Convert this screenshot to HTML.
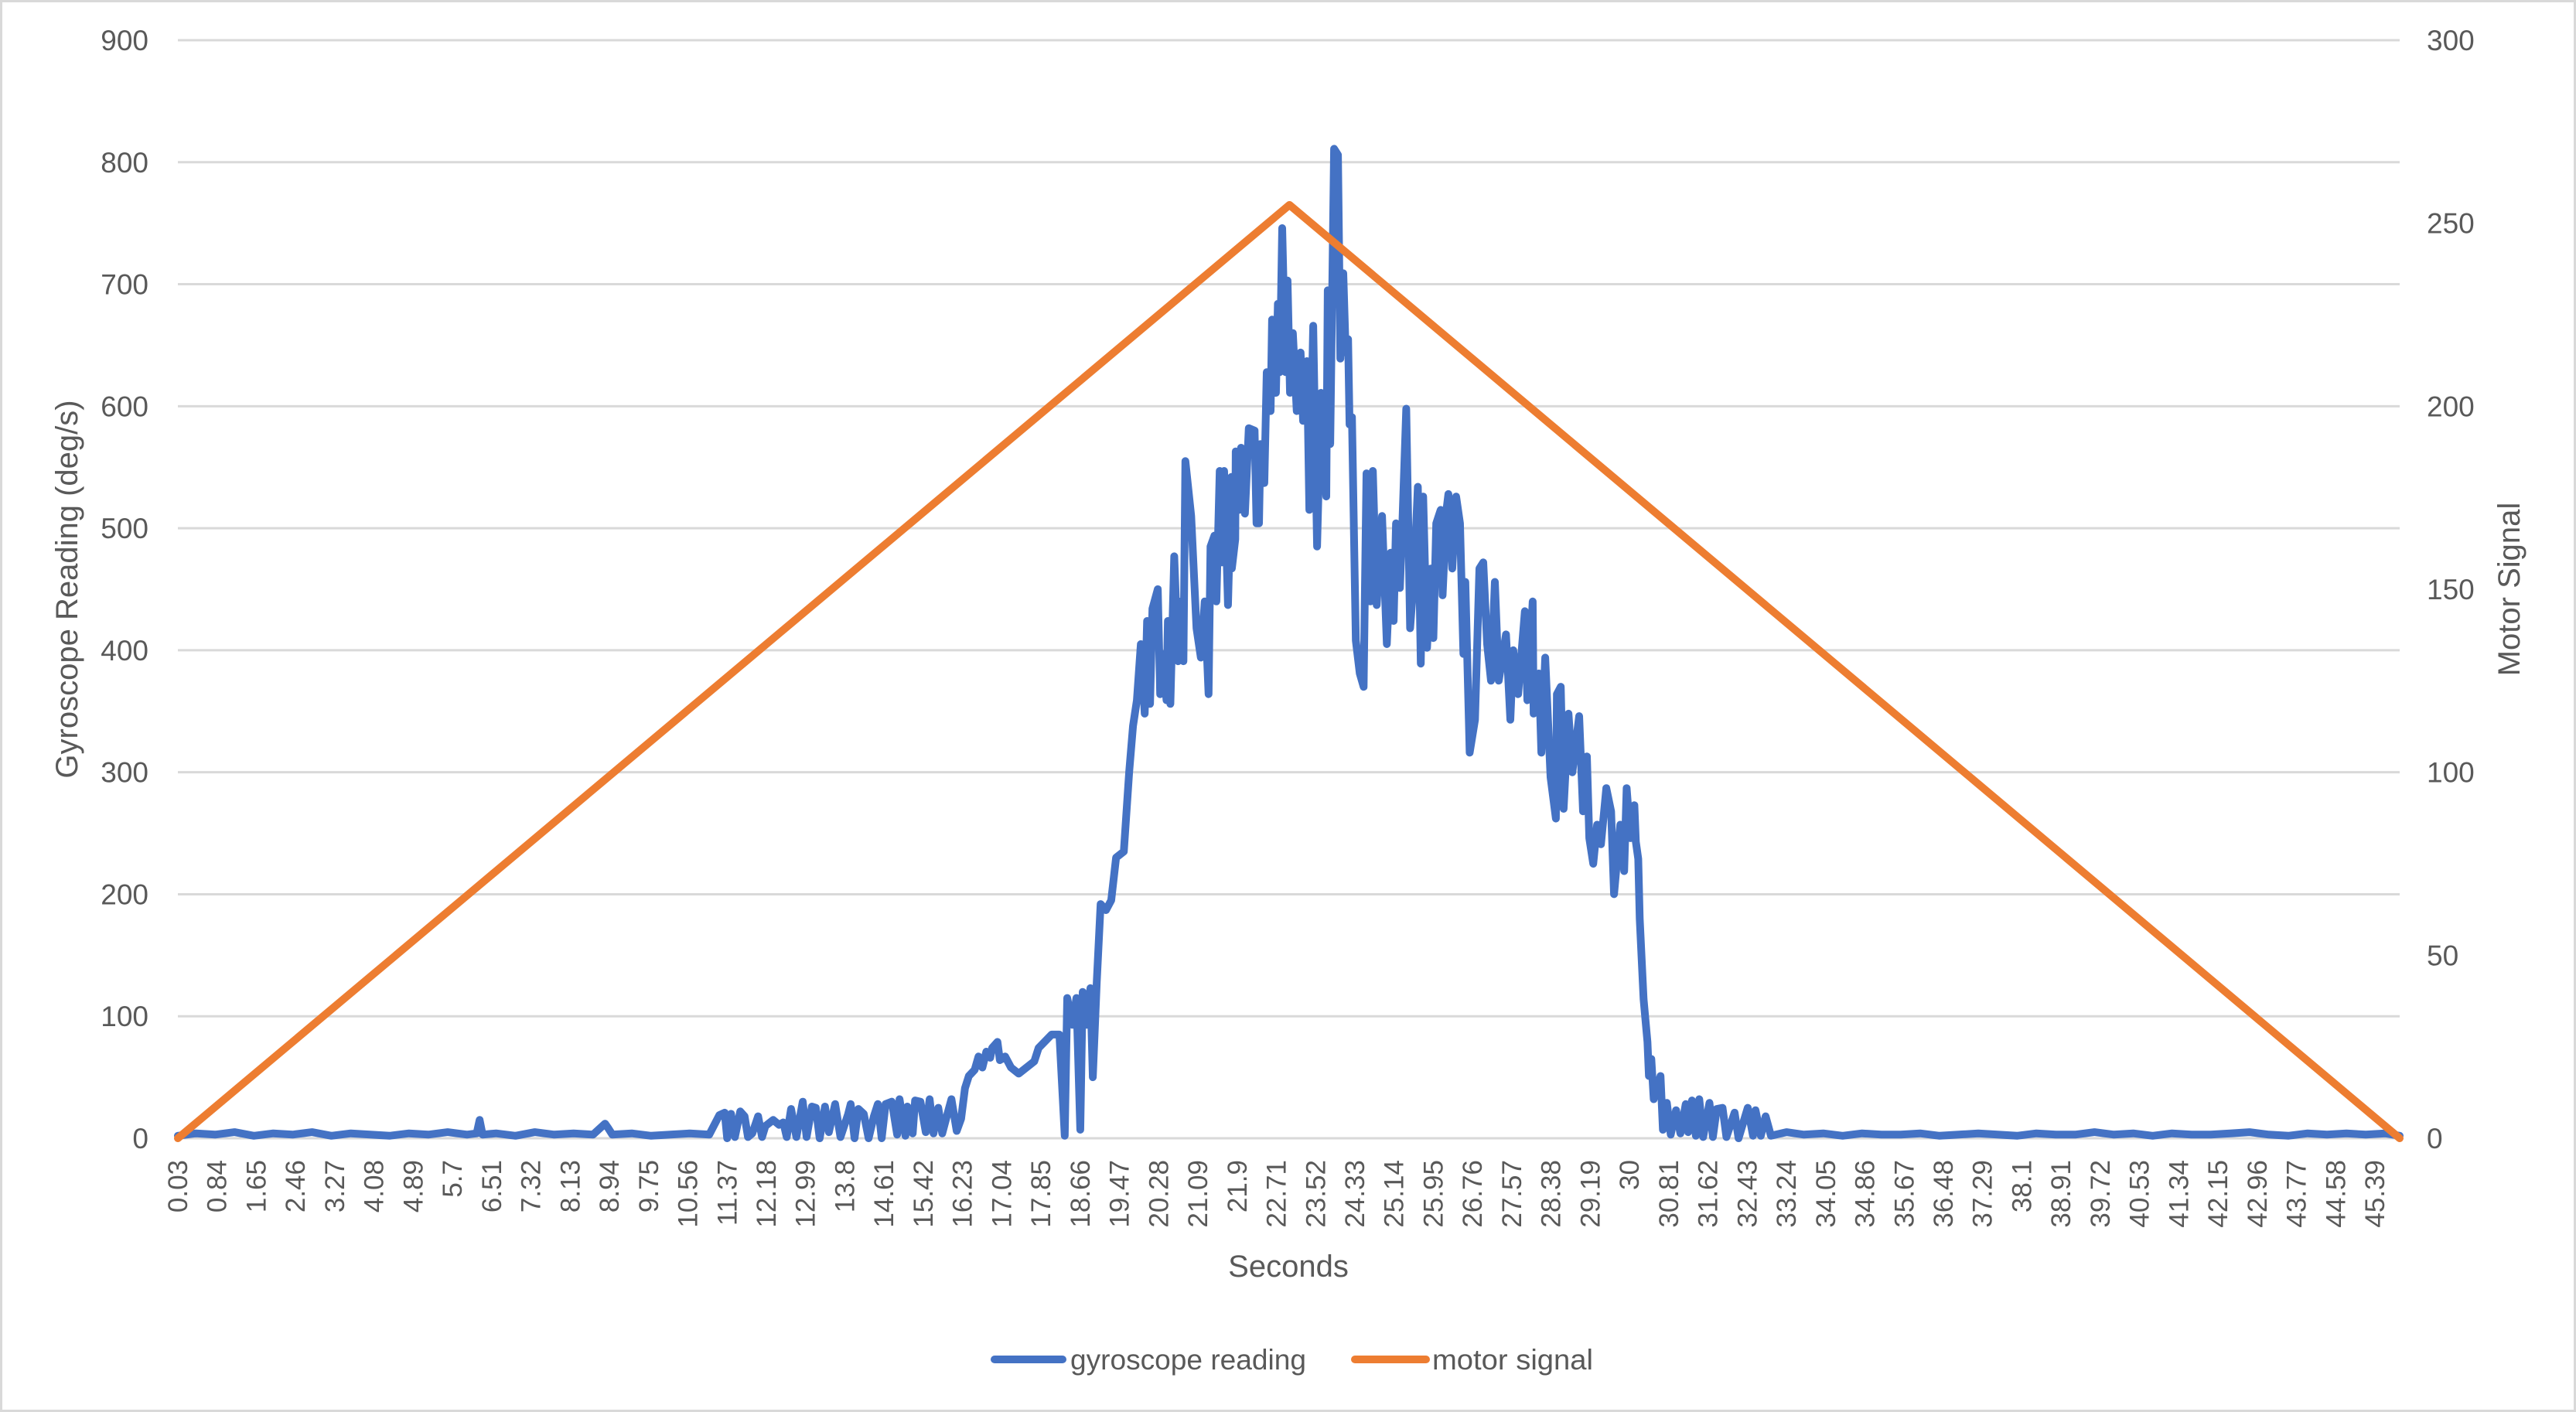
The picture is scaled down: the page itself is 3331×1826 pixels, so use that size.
<!DOCTYPE html>
<html><head><meta charset="utf-8"><style>
html,body{margin:0;padding:0;background:#fff;}
svg{display:block;font-family:"Liberation Sans",sans-serif;}
</style></head><body>
<svg id="chart" width="3331" height="1826" viewBox="0 0 3331 1826">
<rect x="1.5" y="1.5" width="3328" height="1823" fill="#fff" stroke="#d9d9d9" stroke-width="3"/>
<g id="grid"></g>
<g id="lefttick"></g>
<g id="righttick"></g>
<g id="xtick"></g>
<g id="series"></g>
<text x="100" y="762" transform="rotate(-90 100 762)" text-anchor="middle" font-size="40" fill="#595959">Gyroscope Reading (deg/s)</text>
<text x="3258" y="762" transform="rotate(-90 3258 762)" text-anchor="middle" font-size="40" fill="#595959">Motor Signal</text>
<text x="1666" y="1651" text-anchor="middle" font-size="40" fill="#595959">Seconds</text>
<g>
<g>
<line x1="1286" y1="1758" x2="1374" y2="1758" stroke="#4472C4" stroke-width="10" stroke-linecap="round"/>
<text x="1384" y="1771" font-size="37" fill="#595959" textLength="305" lengthAdjust="spacingAndGlyphs">gyroscope reading</text>
</g>
<g>
<line x1="1752" y1="1758" x2="1844" y2="1758" stroke="#ED7D31" stroke-width="10" stroke-linecap="round"/>
<text x="1852" y="1771" font-size="37" fill="#595959" textLength="208" lengthAdjust="spacingAndGlyphs">motor signal</text>
</g>
</g>
</svg>
<script>
const leftTicks = [0,100,200,300,400,500,600,700,800,900];
const rightTicks = [0,50,100,150,200,250,300];
const xTickLabels = ["0.03","0.84","1.65","2.46","3.27","4.08","4.89","5.7","6.51","7.32","8.13","8.94","9.75","10.56","11.37","12.18","12.99","13.8","14.61","15.42","16.23","17.04","17.85","18.66","19.47","20.28","21.09","21.9","22.71","23.52","24.33","25.14","25.95","26.76","27.57","28.38","29.19","30","30.81","31.62","32.43","33.24","34.05","34.86","35.67","36.48","37.29","38.1","38.91","39.72","40.53","41.34","42.15","42.96","43.77","44.58","45.39"];
const motorTimes = [0.03, 22.98, 45.90];
const motorValues = [0, 255, 0];
const gyroTimes = [0.03,0.4,0.8,1.2,1.6,2.0,2.4,2.8,3.2,3.6,4.0,4.4,4.8,5.2,5.6,6.0,6.2,6.26,6.32,6.6,7.0,7.4,7.8,8.2,8.6,8.85,8.92,9.0,9.4,9.8,10.2,10.6,11.0,
11.21,11.32,11.37,11.45,11.53,11.64,11.73,11.80,11.89,12.01,12.09,12.16,12.32,12.44,12.53,12.60,12.69,12.80,12.93,13.01,13.12,13.20,13.28,13.39,13.47,13.60,13.71,13.87,13.92,14.00,14.08,14.19,14.29,14.40,14.48,14.56,14.64,14.77,14.88,14.93,15.05,15.09,15.20,15.25,15.36,15.47,15.55,15.63,15.73,15.81,15.89,16.00,16.11,16.20,16.28,16.36,16.48,16.56,16.64,16.72,16.80,16.84,16.95,17.00,17.11,17.23,
17.39,17.71,17.80,18.07,18.23,18.34,18.39,18.50,18.58,18.66,18.71,18.79,18.87,18.92,19.00,19.08,19.19,19.30,19.40,19.56,19.67,19.75,19.83,19.91,19.99,20.04,20.10,20.15,20.26,20.31,20.36,20.44,20.47,20.52,20.60,20.68,20.74,20.79,20.83,20.95,21.06,21.15,21.23,21.31,21.35,21.43,21.47,21.54,21.59,21.63,21.71,21.78,21.79,21.86,21.87,21.94,21.98,22.06,22.14,22.26,22.30,22.35,22.38,22.46,22.51,22.59,22.62,22.70,22.74,22.78,22.83,22.90,22.94,22.99,23.05,23.13,23.21,23.26,23.34,23.39,23.47,23.55,23.63,23.74,23.77,23.82,23.90,23.98,24.03,24.09,24.14,24.19,24.22,24.27,24.35,24.43,24.51,24.57,24.65,24.70,24.78,24.89,24.99,25.07,25.13,25.18,25.26,25.31,25.39,25.47,25.55,25.63,25.69,25.74,25.82,25.90,25.95,26.01,26.10,26.14,26.22,26.26,26.34,26.42,26.50,26.57,26.61,26.70,26.81,26.90,26.98,27.06,27.14,27.22,27.30,27.45,27.54,27.60,27.70,27.84,27.89,28.00,28.02,28.13,28.18,28.26,28.37,28.48,28.50,28.58,28.64,28.74,28.82,28.96,29.04,29.12,29.17,29.25,29.33,29.41,29.52,29.62,29.68,29.81,29.89,29.94,30.02,30.10,30.13,30.18,30.21,30.29,30.37,30.40,30.45,30.50,30.64,30.69,30.77,30.85,30.96,31.05,31.16,31.21,31.29,31.37,31.44,31.52,31.65,31.72,31.80,31.92,32.00,32.17,32.25,32.44,32.55,32.60,32.71,32.81,32.92,33.24,
33.6,34.0,34.4,34.8,35.2,35.6,36.0,36.4,36.8,37.2,37.6,38.0,38.4,38.8,39.2,39.6,40.0,40.4,40.8,41.2,41.6,42.0,42.4,42.8,43.2,43.6,44.0,44.4,44.8,45.2,45.6,45.90];
const gyroValues = [2,4,3,5,2,4,3,5,2,4,3,2,4,3,5,3,4,15,3,4,2,5,3,4,3,12,8,3,4,2,3,4,3,
19,21,0,20,1,22,18,1,4,18,1,10,15,11,13,1,24,1,30,1,26,25,0,26,5,28,1,20,28,0,24,20,0,18,28,0,28,30,3,32,2,26,4,31,30,5,32,4,25,4,16,32,6,16,41,51,56,67,58,71,66,74,79,64,67,58,
53,63,74,85,85,2,115,93,115,7,120,93,123,50,128,192,187,195,230,235,300,338,359,405,348,424,356,434,450,364,397,359,424,356,477,391,440,391,555,510,418,394,440,364,485,494,440,547,472,547,437,542,467,491,563,515,566,512,582,580,504,504,569,537,628,596,671,611,684,628,746,628,703,611,660,596,644,588,637,515,666,485,611,526,695,569,811,806,639,709,644,655,585,591,408,381,370,545,440,547,437,510,405,480,424,504,451,504,598,418,461,534,389,526,402,467,410,504,515,445,515,528,467,526,504,397,456,316,343,467,472,405,375,456,375,413,343,400,364,432,359,440,348,381,316,394,296,262,364,370,270,348,300,346,268,313,246,225,257,241,287,268,200,257,219,287,246,273,243,229,180,114,79,51,65,32,51,7,29,3,23,4,28,5,31,2,32,1,29,1,24,25,1,21,0,25,2,23,2,18,2,5,
3,4,2,4,3,3,4,2,3,4,3,2,4,3,3,5,3,4,2,4,3,3,4,5,3,2,4,3,4,3,4,2];

const NS = "http://www.w3.org/2000/svg";
const L = 230, R = 3103, T = 52, B = 1472;
const tMin = 0.03, tMax = 45.90;
const xScale = t => L + (t - tMin) / (tMax - tMin) * (R - L);
const yLeft = v => B - v / 900 * (B - T);
const yRight = v => B - v / 300 * (B - T);
function mk(tag, attrs, parent) {
  const el = document.createElementNS(NS, tag);
  for (const k in attrs) el.setAttribute(k, attrs[k]);
  parent.appendChild(el);
  return el;
}
const grid = document.getElementById('grid');
const lt = document.getElementById('lefttick');
const rt = document.getElementById('righttick');
const xt = document.getElementById('xtick');
const series = document.getElementById('series');

leftTicks.forEach(v => {
  const y = yLeft(v);
  const g = mk('line', {x1: L, x2: R, y1: y, y2: y, stroke: '#d9d9d9', 'stroke-width': 3}, grid);
  
  
  const t = mk('text', {x: 192, y: y + 13, 'text-anchor': 'end', 'font-size': 37, fill: '#595959'}, lt);
  t.textContent = v;
  
  
});
rightTicks.forEach(v => {
  const y = yRight(v);
  const t = mk('text', {x: 3138, y: y + 13, 'text-anchor': 'start', 'font-size': 37, fill: '#595959'}, rt);
  t.textContent = v;
  
  
});
xTickLabels.forEach(lab => {
  const x = xScale(parseFloat(lab)) + 12;
  const y = 1500;
  const t = mk('text', {x: x, y: y, 'text-anchor': 'end', 'font-size': 35, fill: '#595959', transform: `rotate(-90 ${x} ${y})`}, xt);
  t.textContent = lab;
  
  
});

const gyroPts = gyroTimes.map((t, i) => xScale(t).toFixed(1) + ',' + yLeft(gyroValues[i]).toFixed(1)).join(' ');
const gp = mk('polyline', {points: gyroPts, fill: 'none', stroke: '#4472C4', 'stroke-width': 10, 'stroke-linejoin': 'round', 'stroke-linecap': 'round'}, series);



const motorPts = motorTimes.map((t, i) => xScale(t).toFixed(1) + ',' + yRight(motorValues[i]).toFixed(1)).join(' ');
const mp = mk('polyline', {points: motorPts, fill: 'none', stroke: '#ED7D31', 'stroke-width': 10, 'stroke-linejoin': 'round', 'stroke-linecap': 'round'}, series);


</script>
</body></html>
